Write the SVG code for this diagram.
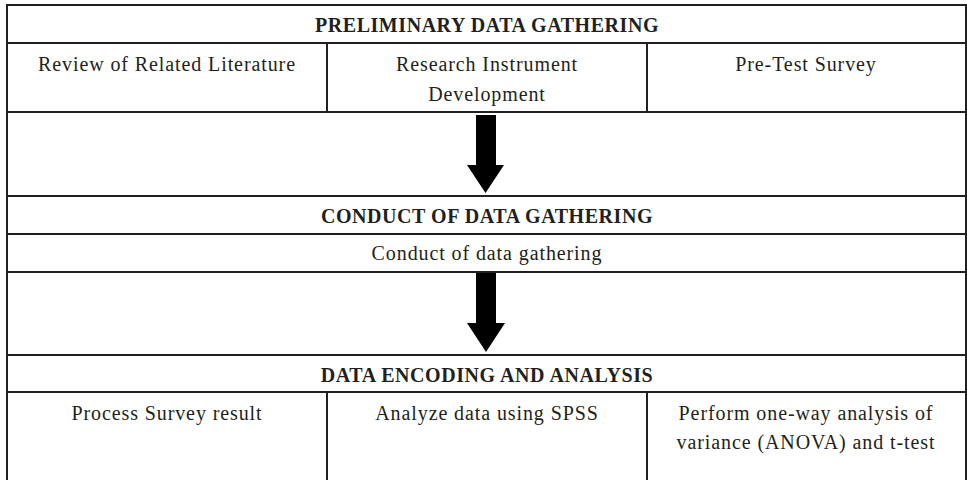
<svg xmlns="http://www.w3.org/2000/svg" width="967" height="480" viewBox="0 0 967 480">
<style>
.ln{stroke:#231f20;stroke-width:2;fill:none}
.t{font-family:"Liberation Serif","Times New Roman",serif;font-size:20px;fill:#231f20;text-anchor:middle;letter-spacing:0.9px}
.h{font-family:"Liberation Serif","Times New Roman",serif;font-size:20px;font-weight:bold;fill:#231f20;text-anchor:middle;letter-spacing:0.55px}
.ar{fill:#000}
</style>
<rect width="967" height="480" fill="#fff"/>
<g id="frame">
<line class="ln" x1="7" y1="5" x2="7" y2="480"/>
<line class="ln" x1="966" y1="5" x2="966" y2="480"/>
<line class="ln" x1="6" y1="5" x2="967" y2="5"/>
</g>
<g id="preliminary-header">
<line class="ln" x1="6" y1="43" x2="967" y2="43"/>
<text class="h" x="487" y="32">PRELIMINARY DATA GATHERING</text>
</g>
<g id="review">
<text class="t" x="167" y="71">Review of Related Literature</text>
</g>
<g id="instrument">
<line class="ln" x1="327" y1="43" x2="327" y2="112"/>
<text class="t" x="487" y="71">Research Instrument</text>
<text class="t" x="487" y="101">Development</text>
</g>
<g id="pretest">
<line class="ln" x1="647" y1="43" x2="647" y2="112"/>
<text class="t" x="806" y="71">Pre-Test Survey</text>
</g>
<g id="rows">
<line class="ln" x1="6" y1="112" x2="967" y2="112"/>
<line class="ln" x1="6" y1="196" x2="967" y2="196"/>
</g>
<g id="conduct-header">
<line class="ln" x1="6" y1="234" x2="967" y2="234"/>
<text class="h" x="487" y="223">CONDUCT OF DATA GATHERING</text>
</g>
<g id="conduct">
<line class="ln" x1="6" y1="272" x2="967" y2="272"/>
<text class="t" x="487" y="260">Conduct of data gathering</text>
</g>
<g id="encoding-header">
<line class="ln" x1="6" y1="355" x2="967" y2="355"/>
<line class="ln" x1="6" y1="392" x2="967" y2="392"/>
<text class="h" x="487" y="382">DATA ENCODING AND ANALYSIS</text>
</g>
<g id="process">
<text class="t" x="167" y="420">Process Survey result</text>
</g>
<g id="analyze">
<line class="ln" x1="327" y1="392" x2="327" y2="480"/>
<text class="t" x="487" y="420">Analyze data using SPSS</text>
</g>
<g id="perform">
<line class="ln" x1="647" y1="392" x2="647" y2="480"/>
<text class="t" x="806" y="420">Perform one-way analysis of</text>
<text class="t" x="806" y="449">variance (ANOVA) and t-test</text>
</g>
<g id="connectors">
<polygon class="ar" points="476,115 496,115 496,165 504,165 485.5,193 467,165 476,165"/>
<polygon class="ar" points="476,273 496,273 496,323 505,323 486,352 467,323 476,323"/>
</g>
</svg>
